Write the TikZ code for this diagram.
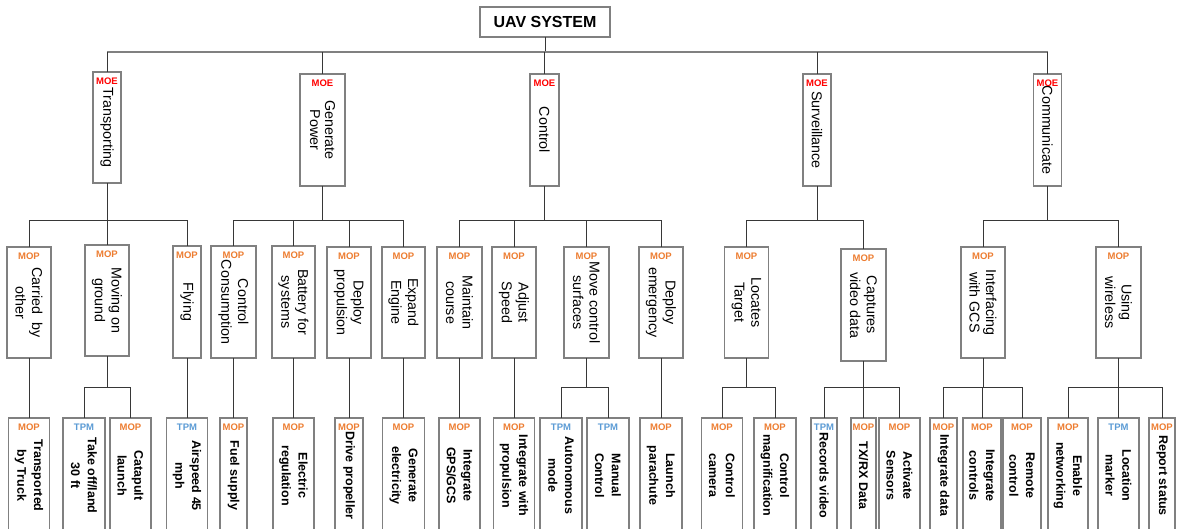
\documentclass[tikz,border=0pt]{standalone}
\usepackage{fontspec}
\setmainfont{Liberation Sans}
\definecolor{mopc}{RGB}{237,125,49}
\definecolor{tpmc}{RGB}{91,155,213}
\definecolor{moec}{RGB}{255,0,0}
\definecolor{boxline}{RGB}{128,128,128}
\definecolor{wirec}{RGB}{55,55,55}
\definecolor{busc}{RGB}{128,128,128}

\tikzset{
  fbox/.style={draw=boxline, line width=1.5pt, fill=white, inner sep=0pt, outer sep=0pt},
  tagMOE/.style={text=moec, font=\bfseries\fontsize{9.5}{10}\selectfont, inner sep=0pt},
  tagMOP/.style={text=mopc, font=\bfseries\fontsize{9.5}{10}\selectfont, inner sep=0pt},
  tagTPM/.style={text=tpmc, font=\bfseries\fontsize{9.5}{10}\selectfont, inner sep=0pt},
  lvlA/.style={font=\fontsize{14.3}{15}\selectfont},
  lvlB/.style={font=\fontsize{14.3}{16.7}\selectfont},
  lvlC/.style={font=\bfseries\fontsize{12.5}{16.7}\selectfont},
  wire/.style={draw=wirec, line width=0.85pt},
  topbus/.style={draw=busc, line width=1.6pt},
}

% #1 name, #2 centre x, #3 top y, #4 width, #5 height, #6 tag, #7 text, #8 text style
\newcommand\uavnode[8]{%
  \node[fbox, minimum width=#4pt, minimum height=#5pt, anchor=north] (#1) at (#2,#3) {};
  \node[rotate=-90, align=center, inner sep=0pt, #8] at (#1.center) {#7};
  \node[tag#6] at ([yshift=-9.5pt]#1.north) {#6};
}
% parent, bus coordinate, first child, last child, all children
\newcommand\branch[5]{%
  \draw[wire] (#1.south) -- (#1.south |- #2);
  \draw[wire] (#3.north |- #2) -- (#4.north |- #2);
  \foreach \c in {#5} \draw[wire] (\c.north) -- (\c.north |- #2);
}

\begin{document}
\begin{tikzpicture}[x=1pt, y=-1pt]
\useasboundingbox (0,0) rectangle (1179,529);
\clip (0,0) rectangle (1179,529);
\fill[white] (0,0) rectangle (1179,529);

\coordinate (busA) at (0,52);
\coordinate (busB) at (0,220);
\coordinate (busC) at (0,387);

% root
\node[fbox, minimum width=130pt, minimum height=30pt, anchor=north,
      font=\bfseries\fontsize{16}{18}\selectfont] (uav) at (545,7) {UAV SYSTEM};

% functions (MOE)
\uavnode{tr}{107}{72}{28}{111}{MOE}{Transporting}{lvlA}
\uavnode{gp}{322.5}{74}{45}{112}{MOE}{Generate\\Power}{lvlA}
\uavnode{ct}{544.5}{74}{29}{112}{MOE}{Control}{lvlA}
\uavnode{sv}{817}{74}{28}{112}{MOE}{Surveillance}{lvlA}
\uavnode{cm}{1047.5}{74}{28}{112}{MOE}{Communicate}{lvlA}

% sub-functions (MOP)
\uavnode{carried}{29}{247}{44}{111}{MOP}{Carried~ by\\other}{lvlB}
\uavnode{moving}{107}{245}{44}{111}{MOP}{Moving on\\ground}{lvlB}
\uavnode{flying}{187}{246}{28}{112}{MOP}{Flying}{lvlB}
\uavnode{consump}{233.5}{246}{45}{112}{MOP}{Control\\Consumption}{lvlB}
\uavnode{battery}{293.5}{246}{43}{112}{MOP}{Battery for\\systems}{lvlB}
\uavnode{deploy}{349}{247}{44}{111}{MOP}{Deploy\\propulsion}{lvlB}
\uavnode{expand}{403.5}{247}{43}{111}{MOP}{Expand\\Engine}{lvlB}
\uavnode{maintain}{459.5}{247}{45}{111}{MOP}{Maintain\\course}{lvlB}
\uavnode{adjust}{514}{247}{44}{111}{MOP}{Adjust\\Speed}{lvlB}
\uavnode{movecs}{586.5}{247}{45}{111}{MOP}{Move control\\surfaces}{lvlB}
\uavnode{emergency}{661}{247}{44}{111}{MOP}{Deploy\\emergency}{lvlB}
\uavnode{locates}{746.5}{247}{44}{111}{MOP}{Locates\\Target}{lvlB}
\uavnode{captures}{863.5}{249}{45}{112}{MOP}{Captures\\video data}{lvlB}
\uavnode{gcs}{983}{247}{44}{111}{MOP}{Interfacing\\with GCS}{lvlB}
\uavnode{wireless}{1118.5}{247}{45}{111}{MOP}{Using\\wireless}{lvlB}

% measures
\uavnode{truck}{29}{418}{41}{115}{MOP}{Transported\\by Truck}{lvlC}
\uavnode{takeoff}{84}{418}{42}{115}{TPM}{Take off/land\\30 ft}{lvlC}
\uavnode{catapult}{130.5}{418}{41}{115}{MOP}{Catapult\\launch}{lvlC}
\uavnode{airspeed}{187}{418}{41}{115}{TPM}{Airspeed 45\\mph}{lvlC}
\uavnode{fuel}{233.5}{418}{27}{115}{MOP}{Fuel supply}{lvlC}
\uavnode{elecreg}{293.5}{418}{41}{115}{MOP}{Electric\\regulation}{lvlC}
\uavnode{propeller}{349}{418}{28}{115}{MOP}{Drive propeller}{lvlC}
\uavnode{genelec}{403.5}{418}{42}{115}{MOP}{Generate\\electricity}{lvlC}
\uavnode{gps}{459.5}{418}{41}{115}{MOP}{Integrate\\GPS/GCS}{lvlC}
\uavnode{integprop}{514}{418}{41}{115}{MOP}{Integrate with\\propulsion}{lvlC}
\uavnode{autonomous}{561}{418}{42}{115}{TPM}{Autonomous\\mode}{lvlC}
\uavnode{manual}{608}{418}{42}{115}{TPM}{Manual\\Control}{lvlC}
\uavnode{parachute}{661}{418}{42}{115}{MOP}{Launch\\parachute}{lvlC}
\uavnode{camera}{722}{418}{41}{115}{MOP}{Control\\camera}{lvlC}
\uavnode{magnif}{775}{418}{42}{115}{MOP}{Control\\magnification}{lvlC}
\uavnode{records}{824}{418}{26}{115}{TPM}{Records video}{lvlC}
\uavnode{txrx}{863.5}{418}{25}{115}{MOP}{TX/RX Data}{lvlC}
\uavnode{sensors}{899.5}{418}{41}{115}{MOP}{Activate\\Sensors}{lvlC}
\uavnode{intdata}{943.5}{418}{27}{115}{MOP}{Integrate data}{lvlC}
\uavnode{intctrl}{982}{418}{38}{115}{MOP}{Integrate\\controls}{lvlC}
\uavnode{remote}{1022}{418}{38}{115}{MOP}{Remote\\control}{lvlC}
\uavnode{networking}{1068}{418}{40}{115}{MOP}{Enable\\networking}{lvlC}
\uavnode{location}{1118.5}{418}{41}{115}{TPM}{Location\\marker}{lvlC}
\uavnode{status}{1162}{418}{26}{115}{MOP}{Report status}{lvlC}

% root to functions
\draw[wire] (uav.south) -- (uav.south |- busA);
\draw[topbus] (tr.north |- busA) -- (cm.north |- busA);
\foreach \c in {tr,gp,ct,sv,cm} \draw[wire] (\c.north) -- (\c.north |- busA);

% functions to sub-functions
\branch{tr}{busB}{carried}{flying}{carried,moving,flying}
\branch{gp}{busB}{consump}{expand}{consump,battery,deploy,expand}
\branch{ct}{busB}{maintain}{emergency}{maintain,adjust,movecs,emergency}
\branch{sv}{busB}{locates}{captures}{locates,captures}
\branch{cm}{busB}{gcs}{wireless}{gcs,wireless}

% sub-functions to measures
\draw[wire] (carried.south) -- (truck.north);
\branch{moving}{busC}{takeoff}{catapult}{takeoff,catapult}
\draw[wire] (flying.south) -- (airspeed.north);
\draw[wire] (consump.south) -- (fuel.north);
\draw[wire] (battery.south) -- (elecreg.north);
\draw[wire] (deploy.south) -- (propeller.north);
\draw[wire] (expand.south) -- (genelec.north);
\draw[wire] (maintain.south) -- (gps.north);
\draw[wire] (adjust.south) -- (integprop.north);
\branch{movecs}{busC}{autonomous}{manual}{autonomous,manual}
\draw[wire] (emergency.south) -- (parachute.north);
\branch{locates}{busC}{camera}{magnif}{camera,magnif}
\branch{captures}{busC}{records}{sensors}{records,txrx,sensors}
\branch{gcs}{busC}{intdata}{remote}{intdata,intctrl,remote}
\branch{wireless}{busC}{networking}{status}{networking,location,status}
\end{tikzpicture}
\end{document}
